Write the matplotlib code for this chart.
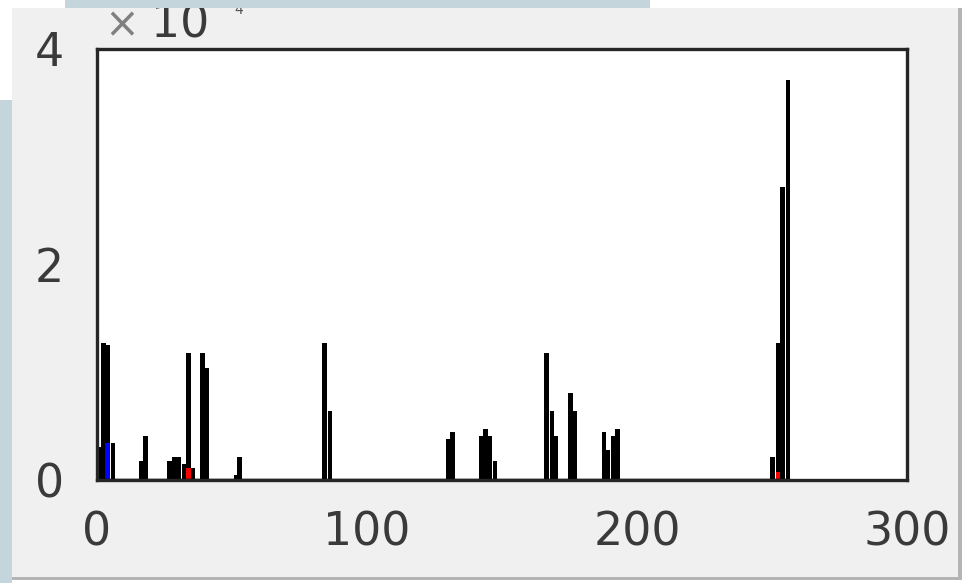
import matplotlib
matplotlib.use("Agg")
import matplotlib.pyplot as plt
from matplotlib.patches import Rectangle

# histogram blocks (left edge in data units, height in units of 1e4)
black_x = [0.0, 1.6, 3.1, 5.0, 15.4, 17.2, 26.1, 27.6, 29.4, 31.3, 33.1, 34.6,
           38.3, 39.8, 50.6, 52.0, 83.5, 85.4, 129.1, 130.9, 141.3, 143.1,
           144.6, 146.5, 165.7, 167.6, 169.1, 174.6, 176.1, 186.9, 188.3,
           190.2, 192.0, 249.4, 251.3, 253.1, 255.0]
black_h = [0.31, 1.27, 1.25, 0.344, 0.177, 0.41, 0.177, 0.214, 0.214, 0.149,
           1.18, 0.115, 1.18, 1.04, 0.047, 0.214, 1.27, 0.64, 0.38, 0.447,
           0.41, 0.474, 0.41, 0.177, 1.18, 0.64, 0.41, 0.81, 0.64, 0.447,
           0.28, 0.41, 0.474, 0.214, 1.27, 2.72, 3.71]
blue_x = [3.1]
blue_h = [0.344]
red_x = [33.1, 251.3]
red_h = [0.115, 0.074]

W, H = 971, 583
fig = plt.figure(figsize=(W / 100, H / 100), dpi=100, facecolor="white")

def fx(px):
    return px / W

def fy(py):
    return 1 - py / H

def bg_rect(x0, y0, w, h, color, z=-5):
    # rectangle in pixel coords from the top-left corner
    fig.patches.append(Rectangle((fx(x0), fy(y0 + h)), w / W, h / H,
                                 transform=fig.transFigure, facecolor=color,
                                 edgecolor="none", zorder=z))

# window background pieces
bg_rect(12, 8, 948, 572, "#f0f0f0")
bg_rect(958, 8, 4, 572, "#b4b4b4")
bg_rect(12, 577, 950, 3, "#b4b4b4")
bg_rect(0, 100, 12, 483, "#c5d5dc")

ax = fig.add_axes([fx(97), 1 - 480 / H, fx(810), 431 / H])
ax.set_facecolor("white")

bw = 1.75
ax.bar(black_x, black_h, width=bw, align="edge", color="black", linewidth=0, zorder=2)
ax.bar(blue_x, blue_h, width=bw, align="edge", color="#0000ff", linewidth=0, zorder=3)
ax.bar(red_x, red_h, width=bw, align="edge", color="#ff0000", linewidth=0, zorder=3)
ax.hlines(0, 0, 256.5, color="black", linewidth=2.5, zorder=4)

ax.set_xlim(0, 300)
ax.set_ylim(0, 4)
ax.set_xticks([0, 100, 200, 300])
ax.set_yticks([0, 2, 4])
ax.tick_params(length=0, labelsize=33, colors="#3a3a3a")
for lab in ax.get_xticklabels() + ax.get_yticklabels():
    lab.set_family("DejaVu Sans")
ax.tick_params(axis="x", pad=22)
ax.tick_params(axis="y", pad=24)
for s in ax.spines.values():
    s.set_color("#262626")
    s.set_linewidth(2.4)
    s.set_zorder(5)

# exponent label, top partly hidden by the window strip
fig.text(fx(104), fy(37), "×", fontsize=30, color="#808080", family="DejaVu Sans",
         va="baseline", ha="left")
fig.text(fx(151), fy(38), "10", fontsize=33, color="#3a3a3a", family="DejaVu Sans",
         va="baseline", ha="left")
fig.text(fx(234), fy(14), "4", fontsize=10, color="#555555", family="DejaVu Sans",
         va="baseline", ha="left")
bg_rect(65, 0, 585, 8, "#c5d5dc", z=10)

fig.savefig("out.png", dpi=100, facecolor=fig.get_facecolor())
